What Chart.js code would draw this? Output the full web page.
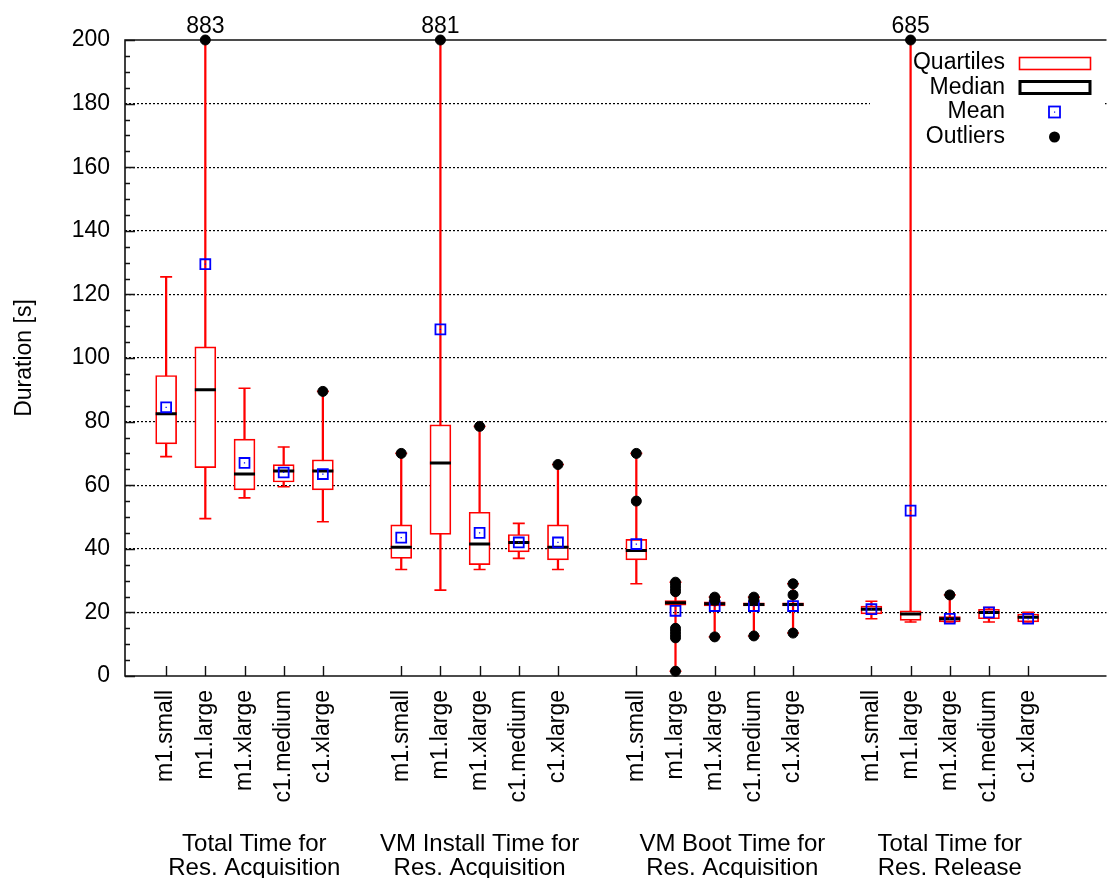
<!DOCTYPE html>
<html>
<head>
<meta charset="utf-8">
<title>Duration by instance type</title>
<script src="https://cdn.jsdelivr.net/npm/chart.js@4.4.1/dist/chart.umd.min.js"></script>
<style>
    html, body { margin: 0; padding: 0; background: #fff; overflow: hidden; }
    #wrap { width: 1120px; height: 878px; }
</style>
</head>
<body>
<div id="wrap"><canvas id="durationChart"></canvas></div>
<script>
// Instance types, repeated in every group
const instanceTypes = ['m1.small', 'm1.large', 'm1.xlarge', 'c1.medium', 'c1.xlarge'];

// Group captions under the axis (two lines each)
const groupTitles = [
    ['Total Time for', 'Res. Acquisition'],
    ['VM Install Time for', 'Res. Acquisition'],
    ['VM Boot Time for', 'Res. Acquisition'],
    ['Total Time for', 'Res. Release']
];

const durationTicks = [0, 20, 40, 60, 80, 100, 120, 140, 160, 180, 200];

// Box statistics in seconds, 5 instance types per group
const whiskerLow  = [69, 49.5, 56, 59.5, 48.5,   33.5, 27, 33.5, 37, 33.5,   29, 1.5, 12.3, 12.6, 13.5,   18, 17, 17, 17, 17];
const quartile1   = [73, 65.5, 58.5, 61, 58.5,   37, 44.5, 35, 39, 36.5,     36.5, 22.3, 22, 22, 22,      19.5, 17.5, 17, 18, 17];
const medians     = [82.5, 90, 63.5, 64.5, 64.5, 40.5, 67, 41.5, 42, 40.5,   39.5, 23, 22.7, 22.5, 22.5,  21, 19.5, 18, 20, 18.5];
const quartile3   = [94.5, 103.5, 74.5, 66.5, 68, 47.5, 79, 51.5, 44.5, 47.5, 43, 23.7, 23.3, 23, 23,     22, 20.5, 18.7, 21, 19.5];
const whiskerHigh = [125.5, 883, 90.5, 72, 89.5, 70, 881, 78.5, 48, 66.5,    70, 29.5, 24.8, 24.8, 29,    23.5, 685, 25.5, 21.5, 20];
const means       = [84.5, 129.5, 67, 64, 63.5,  43.5, 109, 45, 42, 42,      41.5, 20.5, 22, 22, 22,      21, 52, 18, 20, 18];
const outliers = [
    [], [883], [], [], [89.5],
    [70], [881], [78.5], [], [66.5],
    [55, 70], [29.5, 28.5, 27.5, 26.5, 15, 14, 13, 12, 1.5], [24.8, 23.8, 12.3], [24.8, 24, 12.6], [29, 25.5, 13.5],
    [], [685], [25.5], [], []
];

const Y_MAX = 200;
const FONT = "'Liberation Sans', Arial, Helvetica, sans-serif";
const RED = '#ff0000';
const BLUE = '#0000ff';

// one empty slot between groups
const positions = medians.map((_, k) => Math.floor(k / 5) * 6 + (k % 5) + 1);
const asPoints = values => values.map((v, k) => ({x: positions[k], y: v}));

const outlierPoints = [];
outliers.forEach((list, k) => {
    list.forEach(v => outlierPoints.push({x: positions[k], y: Math.min(v, Y_MAX), raw: v}));
});

// frame, inward ticks, legend and captions
const boxPlotDecor = {
    id: 'boxPlotDecor',
    beforeDatasetsDraw(chart) {
        const {ctx, chartArea: a, scales: {x, y}} = chart;
        ctx.save();

        // legend background covers the grid behind it
        ctx.fillStyle = '#fff';
        ctx.fillRect(870, 47, 233, 103);

        ctx.strokeStyle = '#111';
        ctx.lineWidth = 1.6;
        ctx.beginPath();
        ctx.moveTo(a.right, a.top);
        ctx.lineTo(a.left, a.top);
        ctx.lineTo(a.left, a.bottom);
        ctx.lineTo(a.right, a.bottom);
        ctx.stroke();

        ctx.lineWidth = 1.4;
        ctx.beginPath();
        for (let v = 0; v <= Y_MAX; v += 5) {
            const py = Math.round(y.getPixelForValue(v)) + 0.5;
            const len = v % 20 === 0 ? 10 : 5;
            ctx.moveTo(a.left, py);
            ctx.lineTo(a.left + len, py);
        }
        positions.forEach(p => {
            const px = Math.round(x.getPixelForValue(p)) + 0.5;
            ctx.moveTo(px, a.bottom);
            ctx.lineTo(px, a.bottom - 10);
        });
        ctx.stroke();

        // legend
        ctx.font = '23px ' + FONT;
        ctx.fillStyle = '#000';
        ctx.textAlign = 'right';
        ctx.textBaseline = 'middle';
        const rows = [63, 87.5, 112, 137];
        ['Quartiles', 'Median', 'Mean', 'Outliers'].forEach((t, i) => ctx.fillText(t, 1005, rows[i]));

        ctx.strokeStyle = RED;
        ctx.lineWidth = 1.6;
        ctx.strokeRect(1019.5, 57.5, 71, 12);
        ctx.strokeStyle = '#000';
        ctx.lineWidth = 3;
        ctx.strokeRect(1020, 81.5, 70, 12);
        ctx.strokeStyle = BLUE;
        ctx.lineWidth = 1.8;
        ctx.strokeRect(1049, 106.5, 11, 11);
        ctx.fillStyle = BLUE;
        ctx.fillRect(1054, 111.5, 1.2, 1.2);
        ctx.fillStyle = '#000';
        ctx.beginPath();
        ctx.arc(1054.5, 137, 5.5, 0, Math.PI * 2);
        ctx.fill();

        ctx.restore();
    },
    afterDraw(chart) {
        const {ctx, chartArea: a, scales: {x}} = chart;
        ctx.save();
        ctx.fillStyle = '#000';

        // values of outliers beyond the axis
        ctx.font = '23px ' + FONT;
        ctx.textAlign = 'center';
        ctx.textBaseline = 'alphabetic';
        outlierPoints.filter(p => p.raw > Y_MAX).forEach(p => {
            ctx.fillText(String(p.raw), x.getPixelForValue(p.x), a.top - 7);
        });

        // group captions
        ctx.font = '24px ' + FONT;
        const captionX = [3.25, 9, 15.45, 21];
        groupTitles.forEach((lines, g) => {
            const px = x.getPixelForValue(captionX[g]);
            ctx.fillText(lines[0], px, 851);
            ctx.fillText(lines[1], px, 875);
        });

        // y axis title
        ctx.font = '23px ' + FONT;
        ctx.translate(25, (a.top + a.bottom) / 2);
        ctx.rotate(-Math.PI / 2);
        ctx.textBaseline = 'middle';
        ctx.fillText('Duration [s]', 0, 0);
        ctx.restore();
    }
};

document.addEventListener('DOMContentLoaded', function() {
    const canvas = document.getElementById('durationChart');

    new Chart(canvas, {
        type: 'scatter',
        data: {
            datasets: [
                {
                    type: 'bar',
                    label: 'Whiskers',
                    data: positions.map((p, k) => ({x: p, y: [whiskerLow[k], whiskerHigh[k]]})),
                    backgroundColor: RED,
                    borderWidth: 0,
                    barThickness: 1.6,
                    grouped: false,
                    clip: 0,
                    order: 6
                },
                {
                    label: 'Whisker caps',
                    data: asPoints(whiskerLow).concat(asPoints(whiskerHigh)),
                    pointStyle: 'line',
                    pointRadius: 6,
                    pointBorderColor: RED,
                    pointBorderWidth: 1.6,
                    clip: 0,
                    order: 5
                },
                {
                    type: 'bar',
                    label: 'Quartiles',
                    data: positions.map((p, k) => ({x: p, y: [quartile1[k], quartile3[k]]})),
                    backgroundColor: '#fff',
                    borderColor: RED,
                    borderWidth: 1.7,
                    borderSkipped: false,
                    barThickness: 21,
                    grouped: false,
                    clip: 0,
                    order: 4
                },
                {
                    label: 'Median',
                    data: asPoints(medians),
                    pointStyle: 'line',
                    pointRadius: 10.5,
                    pointBorderColor: '#000',
                    pointBorderWidth: 3,
                    order: 3
                },
                {
                    label: 'Mean',
                    data: asPoints(means),
                    pointStyle: 'rect',
                    pointRadius: 7,
                    pointBackgroundColor: 'rgba(0,0,0,0)',
                    pointBorderColor: BLUE,
                    pointBorderWidth: 1.8,
                    order: 2
                },
                {
                    label: 'Mean centre',
                    data: asPoints(means),
                    pointStyle: 'rect',
                    pointRadius: 0.9,
                    pointBackgroundColor: BLUE,
                    pointBorderWidth: 0,
                    order: 2
                },
                {
                    label: 'Outliers',
                    data: outlierPoints,
                    pointStyle: 'circle',
                    pointRadius: 5,
                    pointBackgroundColor: '#000',
                    pointBorderColor: '#000',
                    pointBorderWidth: 1,
                    clip: false,
                    order: 1
                }
            ]
        },
        options: {
            responsive: true,
            maintainAspectRatio: false,
            animation: false,
            events: [],
            layout: { padding: { top: 40, right: 6, left: 0, bottom: 0 } },
            plugins: {
                legend: { display: false },
                tooltip: { enabled: false }
            },
            scales: {
                x: {
                    type: 'linear',
                    min: -0.05,
                    max: 25,
                    offset: false,
                    grid: { display: false, drawTicks: false },
                    border: { display: false },
                    afterBuildTicks: scale => {
                        scale.ticks = positions.map(p => ({value: p}));
                    },
                    afterFit: scale => { scale.height = 202; },
                    ticks: {
                        autoSkip: false,
                        minRotation: 90,
                        maxRotation: 90,
                        padding: 14,
                        color: '#000',
                        font: { family: FONT, size: 23 },
                        callback: (value, index) => instanceTypes[index % instanceTypes.length]
                    }
                },
                y: {
                    min: 0,
                    max: Y_MAX,
                    afterBuildTicks: scale => {
                        scale.ticks = durationTicks.map(v => ({value: v}));
                    },
                    afterFit: scale => { scale.width = 125; },
                    grid: {
                        drawTicks: false,
                        lineWidth: 1.2,
                        color: c => (c.tick && (c.tick.value === 0 || c.tick.value === Y_MAX)) ? 'rgba(0,0,0,0)' : '#000'
                    },
                    border: { display: false, dash: [2, 2] },
                    ticks: {
                        padding: 15,
                        color: '#000',
                        font: { family: FONT, size: 23 }
                    }
                }
            }
        },
        plugins: [boxPlotDecor]
    });
});
</script>
</body>
</html>
